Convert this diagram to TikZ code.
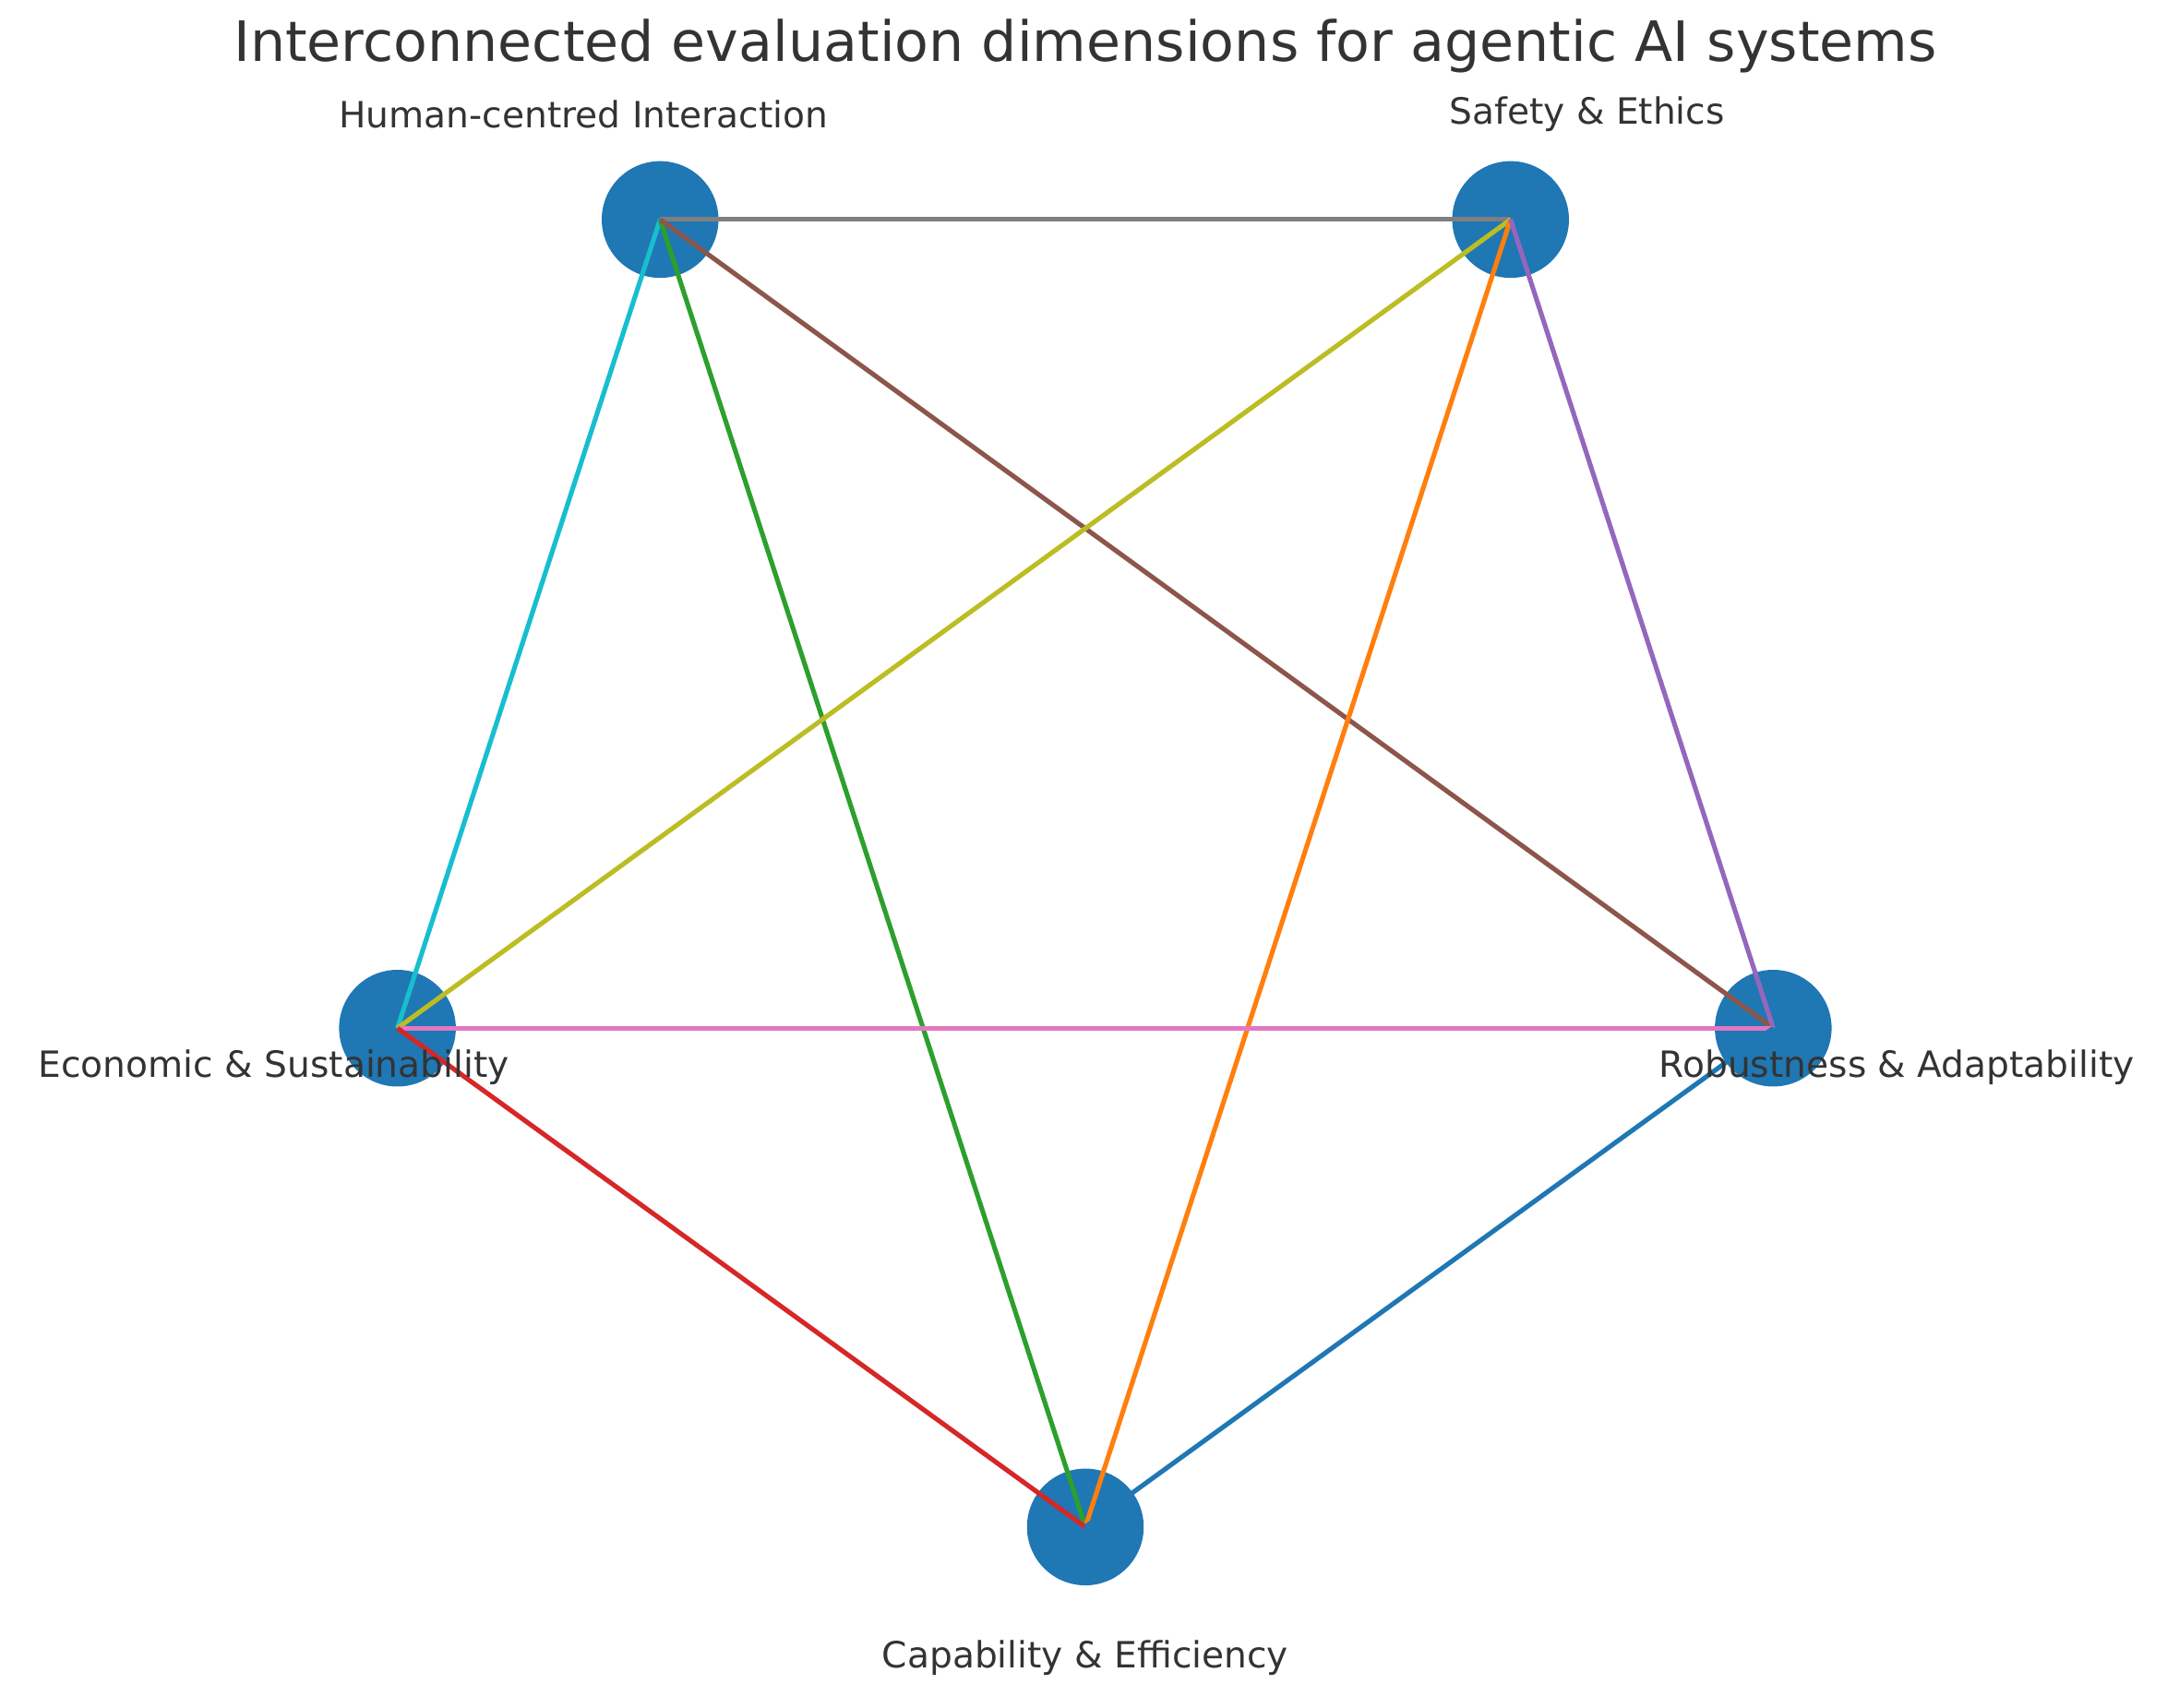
\documentclass[tikz,border=0pt]{standalone}
\usepackage{fontspec}
\setmainfont{DejaVu Sans}
\begin{document}
\begin{tikzpicture}[x=0.5pt,y=-0.5pt,
  dim/.style={circle,fill=nb,draw=none,minimum size=42pt,inner sep=0pt},
  lab/.style={text=tx,font=\fontsize{13pt}{15pt}\selectfont,inner sep=0pt},
  edge/.style={line width=1.7pt}]
\definecolor{nb}{HTML}{1F77B4}
\definecolor{tx}{HTML}{333333}
\definecolor{tgray}{HTML}{7F7F7F}\definecolor{tcyan}{HTML}{17BECF}
\definecolor{tgreen}{HTML}{2CA02C}\definecolor{tbrown}{HTML}{8C564B}
\definecolor{tolive}{HTML}{BCBD22}\definecolor{torange}{HTML}{FF7F0E}
\definecolor{tpurple}{HTML}{9467BD}\definecolor{tpink}{HTML}{E377C2}
\definecolor{tred}{HTML}{D62728}\definecolor{tblue}{HTML}{1F77B4}
\useasboundingbox (0,0) rectangle (1568,1229);
\node[dim] (H) at (475,158) {};
\node[dim] (S) at (1087,158) {};
\node[dim] (E) at (286,740) {};
\node[dim] (R) at (1276,740) {};
\node[dim] (C) at (781,1099) {};
\draw[edge,tgray] (H.center) -- (S.center);
\draw[edge,tcyan] (H.center) -- (E.center);
\draw[edge,tgreen] (H.center) -- (C.center);
\draw[edge,tbrown] (H.center) -- (R.center);
\draw[edge,tolive] (S.center) -- (E.center);
\draw[edge,torange] (S.center) -- (C.center);
\draw[edge,tpurple] (S.center) -- (R.center);
\draw[edge,tpink] (E.center) -- (R.center);
\draw[edge,tred] (E.center) -- (C.center);
\draw[edge,tblue] (C.center) -- (R.center);
\node[lab] (tH) at (420,82) {Human-centred Interaction};
\node[lab] (tS) at (1142,82) {Safety \& Ethics};
\node[lab] (tE) at (197,768) {Economic \& Sustainability};
\node[lab] (tR) at (1365,768) {Robustness \& Adaptability};
\node[lab] (tC) at (781,1193) {Capability \& Efficiency};
\node[lab,font=\fontsize{20pt}{24pt}\selectfont] (title) at (781,33) {Interconnected evaluation dimensions for agentic AI systems};
\end{tikzpicture}
\end{document}
